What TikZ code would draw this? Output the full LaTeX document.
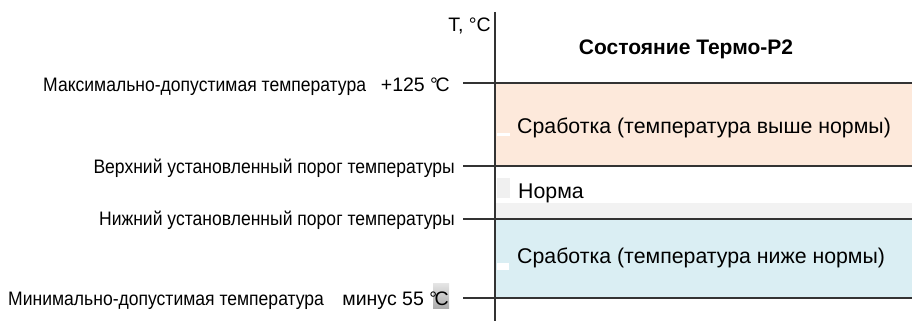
\documentclass[tikz,border=0pt]{standalone}
\usepackage{fontspec}
\setmainfont{Liberation Sans}
\newfontfamily\narrowfont[FakeStretch=0.9]{Liberation Sans}
\usetikzlibrary{positioning}
\definecolor{hotfill}{HTML}{FDE9DB}
\definecolor{coldfill}{HTML}{DAEEF3}
\definecolor{normband}{HTML}{F2F2F2}

\begin{document}
\begin{tikzpicture}[x=1pt,y=-1pt,
  lbl/.style={font=\narrowfont\fontsize{19.5}{22}\selectfont, inner sep=0pt},
  val/.style={font=\fontsize{19.5}{22}\selectfont, inner sep=0pt, anchor=base east},
  zone/.style={font=\fontsize{21.3}{25}\selectfont, inner sep=0pt, anchor=base west},
  level/.style={draw=black!80, line width=1.2pt}]

    \useasboundingbox (0,0) rectangle (912,321);

    % zones of the state column
    \fill[hotfill] (496,83) rectangle (912,166);
    \fill[normband] (496,203) rectangle (912,219);
    \fill[coldfill] (496,219) rectangle (912,298);
    \fill[white] (497,133) rectangle (510,136);
    \fill[black!6] (497,178) rectangle (510,198);
    \fill[white] (497,263) rectangle (509,270);

    % levels and axis
    \foreach \name/\y in {max/83, up/166, low/219, min/298} {
      \coordinate (\name l) at (463,\y);
      \coordinate (\name r) at (912,\y);
      \draw[level] (\name l) -- (\name r);
    }
    \coordinate (axtop) at (495,12);
    \coordinate (axbot) at (495,321);
    \draw[level] (axtop) -- (axbot);

    \node[val] (unit) at (491,32) {T, °C};
    \node[font=\bfseries\fontsize{21}{24}\selectfont, inner sep=0pt, anchor=base] (title) at (686,55) {Состояние Термо-Р2};

    \node[lbl, anchor=base west] (maxtxt) at (43,91) {Максимально-допустимая температура};
    \node[val] (maxval) at (450,91) {+125 °\kern-0.12em C};
    \node[lbl, anchor=base east] (uptxt) at (455,173) {Верхний установленный порог температуры};
    \node[lbl, anchor=base east] (lowtxt) at (455,225) {Нижний установленный порог температуры};
    \node[lbl, anchor=base west] (mintxt) at (8,305) {Минимально-допустимая температура};
    \fill[top color=gray!20, bottom color=gray!65] (433,283) rectangle (449,308);
    \node[val] (minval) at (449,305) {минус 55 °\kern-0.12em C};

    \node[zone] (hot) at (517,133) {Сработка (температура выше нормы)};
    \node[zone] (norm) at (518,198) {Норма};
    \node[zone] (cold) at (517,263) {Сработка (температура ниже нормы)};

\end{tikzpicture}
\end{document}
